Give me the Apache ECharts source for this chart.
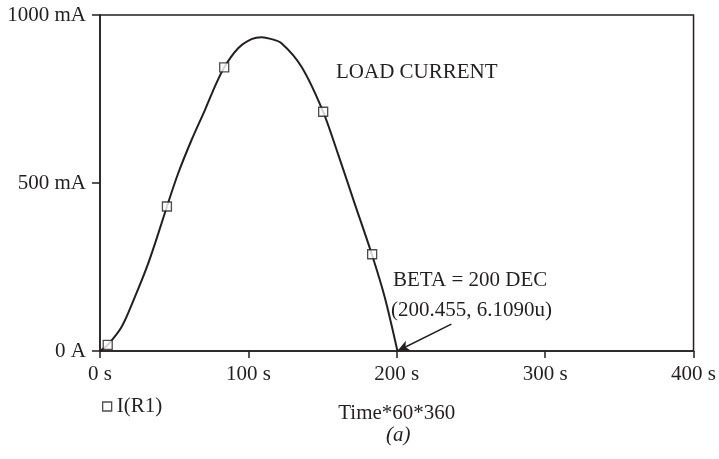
<!DOCTYPE html>
<html>
<head>
<meta charset="utf-8">
<script src="https://cdn.jsdelivr.net/npm/echarts@6/dist/echarts.min.js"></script>
<style>
html,body{margin:0;padding:0;background:#fff;}
#c{width:719px;height:459px;}
</style>
</head>
<body>
<div id="c"></div>
<script>
// Curve samples (x: Time*60*360 in "s" units, y: mA)
const curveX = [0, 5.2, 14.6, 23.6, 32.5, 39.3, 45.1, 52.7, 61.7, 70.7, 77.4, 83.7, 93.1, 102.1, 108.9, 115, 122.3, 135.8, 150.4, 160.5, 171.7, 183.4, 191.9, 200.455];
const curveY = [0, 18, 72, 162, 261, 350, 430, 529, 628, 717, 787, 844, 901, 928, 934, 929, 916, 846, 712, 585, 438, 285, 160, 0];
// Marker samples for I(R1)
const markX = [5.2, 45.1, 83.7, 150.4, 183.4];
const markY = [18, 430, 844, 712, 288];
// Tick labels
const xTickLabels = {0: '0 s', 100: '100 s', 200: '200 s', 300: '300 s', 400: '400 s'};
const yTickLabels = {0: '0 A', 500: '500 mA', 1000: '1000 mA'};
// Annotation anchor (extinction point) and arrow tail
const betaPoint = [200.455, 0];
const arrowTail = [236.8, 80];

const FONT = '"Liberation Serif", "DejaVu Serif", serif';
const FS = 21;
const INK = '#231f20';

const chart = echarts.init(document.getElementById('c'), null, {renderer: 'canvas'});
chart.setOption({
  animation: false,
  backgroundColor: '#fff',
  grid: {left: 100, right: 25, top: 15, bottom: 108, show: true, borderColor: INK, borderWidth: 1.5, backgroundColor: 'transparent'},
  legend: {
    data: ['I(R1)'], left: 97, top: 391, icon: 'rect', itemWidth: 9, itemHeight: 9, itemGap: 4,
    textStyle: {fontFamily: FONT, fontSize: FS, color: INK},
    itemStyle: {color: '#fff', borderColor: INK, borderWidth: 1.3}
  },
  xAxis: {
    type: 'value', min: 0, max: 400, interval: 100,
    name: 'Time*60*360', nameLocation: 'middle', nameGap: 52,
    nameTextStyle: {fontFamily: FONT, fontSize: FS, color: INK},
    axisLine: {show: true, onZero: false, lineStyle: {color: INK, width: 1.5}},
    axisTick: {show: true, inside: false, length: 7, lineStyle: {color: INK, width: 1.5}},
    axisLabel: {margin: 13, fontFamily: FONT, fontSize: FS, color: INK, formatter: v => xTickLabels[v] || ''},
    splitLine: {show: false}
  },
  yAxis: {
    type: 'value', min: 0, max: 1000, interval: 500,
    axisLine: {show: true, lineStyle: {color: INK, width: 1.5}},
    axisTick: {show: true, inside: false, length: 8, lineStyle: {color: INK, width: 1.5}},
    axisLabel: {margin: 14, fontFamily: FONT, fontSize: FS, color: INK, formatter: v => yTickLabels[v] || ''},
    splitLine: {show: false}
  },
  series: [
    {
      type: 'line', name: 'curve', smooth: 0.3, showSymbol: false, symbol: 'none',
      data: curveX.map((x, i) => [x, curveY[i]]),
      lineStyle: {color: INK, width: 2},
      z: 2,
      markLine: {
        silent: true, symbol: ['none', 'arrow'], symbolSize: [8, 12],
        lineStyle: {color: INK, width: 1.5, type: 'solid'},
        label: {show: false},
        data: [[{coord: arrowTail}, {coord: betaPoint}]]
      }
    },
    {
      type: 'scatter', name: 'I(R1)', symbol: 'rect', symbolSize: 9,
      data: markX.map((x, i) => [x, markY[i]]),
      itemStyle: {color: '#fff', borderColor: INK, borderWidth: 1.3},
      z: 3
    }
  ],
  graphic: [
    {type: 'text', left: 336, top: 62, style: {text: 'LOAD CURRENT', font: FS + 'px ' + FONT, fill: INK}},
    {type: 'text', left: 393, top: 270, style: {text: 'BETA = 200 DEC', font: FS + 'px ' + FONT, fill: INK}},
    {type: 'text', left: 391, top: 300, style: {text: '(200.455, 6.1090u)', font: FS + 'px ' + FONT, fill: INK}},
    {type: 'text', left: 386, top: 425, style: {text: '(a)', font: 'italic ' + FS + 'px ' + FONT, fill: INK}}
  ]
});
</script>
</body>
</html>
